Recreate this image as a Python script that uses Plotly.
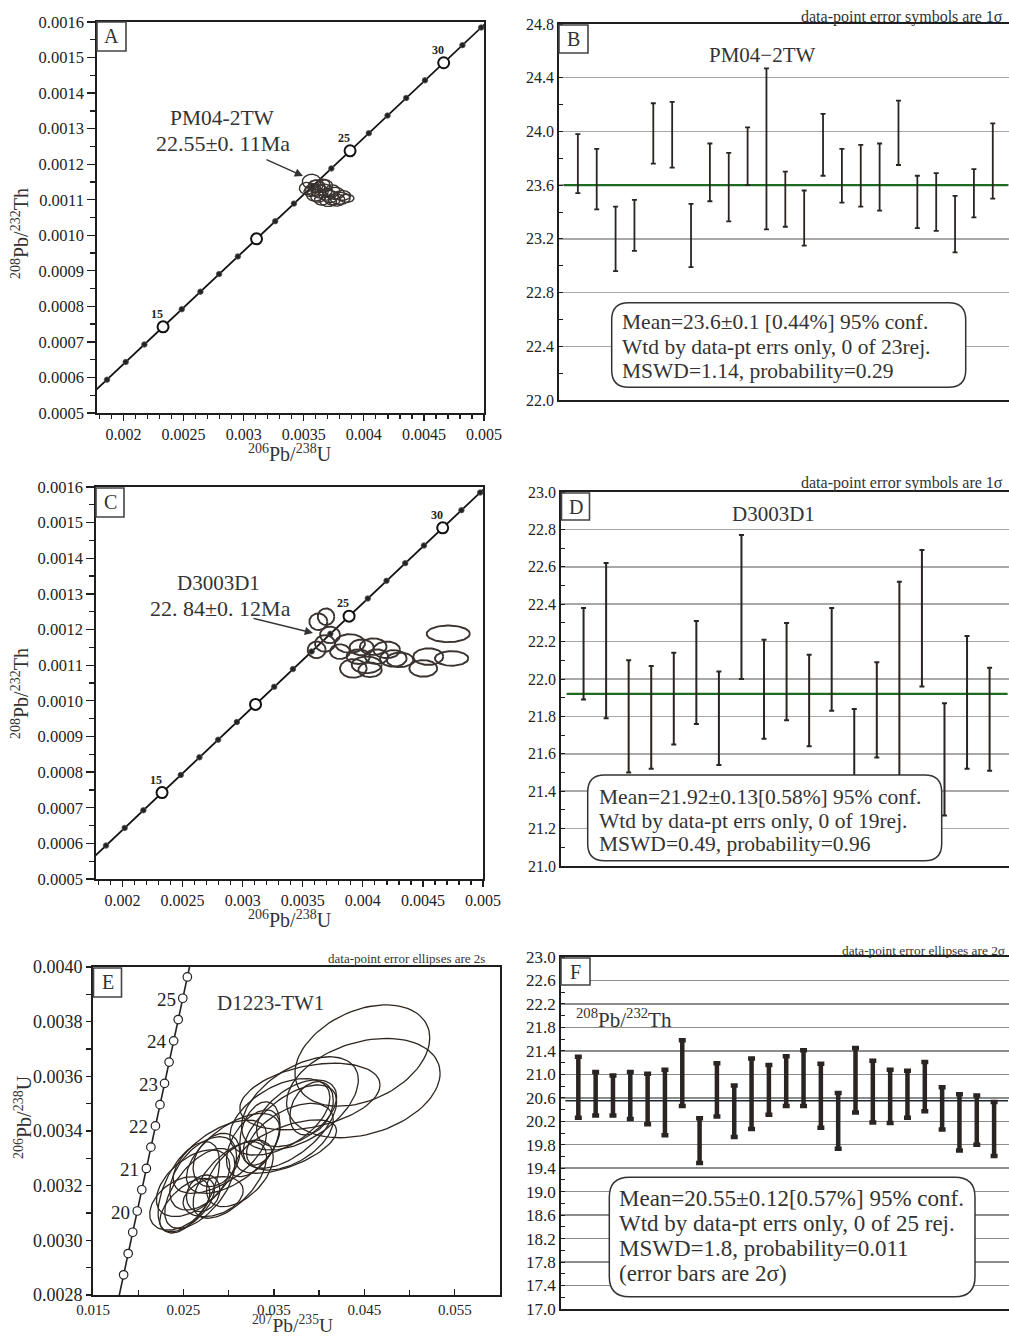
import numpy as np
import plotly.graph_objects as go

W, H = 1009, 1338
SERIF = "Liberation Serif"
AXC = "#1e1e1e"

# ---------------- decay constants (Steiger & Jaeger 1977) ----------------
L238 = 1.55125e-10
L235 = 9.8485e-10
L232 = 4.9475e-11

# ---------------- Panels A / C : 208Pb/232Th vs 206Pb/238U concordia ----------------
tw_line_ages = [11, 12, 13, 14, 15, 16, 17, 18, 19, 20, 21, 22, 23, 24, 25, 26,
                27, 28, 29, 30, 31, 32, 33]
tw_dot_ages = [12, 13, 14, 16, 17, 18, 19, 21, 22, 23, 24, 26, 27, 28, 29, 31, 32]
tw_big_ages = [15, 20, 25, 30]
tw_label_ages = [15, 25, 30]

# Panel A error ellipses (PM04-2TW): centre x, centre y, half-width, half-height
a_x = [0.003566, 0.003525, 0.003608, 0.003635, 0.003594, 0.003677, 0.003719, 0.003760,
       0.003802, 0.003857, 0.003650, 0.003704, 0.003774, 0.003663, 0.003552, 0.003740,
       0.003620, 0.003690, 0.003740, 0.003680, 0.003600, 0.003820, 0.003580]
a_y = [0.001151, 0.001132, 0.001137, 0.001123, 0.001113, 0.001127, 0.001109, 0.001118,
       0.001104, 0.001104, 0.001099, 0.001095, 0.001099, 0.001141, 0.001123, 0.001125,
       0.001108, 0.001115, 0.001100, 0.001140, 0.001140, 0.001112, 0.001128]
a_sx = [0.0000776, 0.0000610, 0.0000690, 0.0000690, 0.0000690, 0.0000610, 0.0000690, 0.0000776,
        0.0000830, 0.0000610, 0.0000610, 0.0000690, 0.0000690, 0.0000555, 0.0000500, 0.0000610,
        0.0000610, 0.0000650, 0.0000650, 0.0000600, 0.0000600, 0.0000700, 0.0000650]
a_sy = [0.0000206, 0.0000169, 0.0000180, 0.0000180, 0.0000169, 0.0000169, 0.0000169, 0.0000169,
        0.0000169, 0.0000113, 0.0000141, 0.0000141, 0.0000169, 0.0000169, 0.0000141, 0.0000169,
        0.0000150, 0.0000160, 0.0000150, 0.0000160, 0.0000160, 0.0000140, 0.0000170]

# Panel C error ellipses (D3003D1)
c_x = [0.003630, 0.003694, 0.003616, 0.003685, 0.003727, 0.003810, 0.003893, 0.003921,
       0.004087, 0.004032, 0.004060, 0.004199, 0.004254, 0.004309, 0.004115, 0.003962,
       0.004503, 0.004545, 0.004739, 0.004711, 0.003990]
c_y = [0.001222, 0.001236, 0.001143, 0.001161, 0.001185, 0.001138, 0.001161, 0.001091,
       0.001152, 0.001101, 0.001087, 0.001143, 0.001119, 0.001115, 0.001124, 0.001124,
       0.001091, 0.001124, 0.001119, 0.001188, 0.001150]
c_sx = [0.0000749, 0.0000690, 0.0000749, 0.0000832, 0.0000832, 0.0000832, 0.000125, 0.000111,
        0.000111, 0.000125, 0.0000973, 0.000111, 0.000111, 0.000111, 0.0000973, 0.0000973,
        0.000116, 0.000125, 0.000139, 0.000180, 0.000100]
c_sy = [0.0000233, 0.0000233, 0.0000233, 0.0000233, 0.0000233, 0.0000206, 0.0000261, 0.0000261,
        0.0000233, 0.0000233, 0.0000205, 0.0000233, 0.0000233, 0.0000205, 0.0000205, 0.0000205,
        0.0000233, 0.0000233, 0.0000205, 0.0000233, 0.0000220]

# ---------------- Panel B : PM04-2TW weighted mean ----------------
b_lo = [23.54, 23.42, 22.96, 23.11, 23.76, 23.73, 22.99, 23.48, 23.33, 23.60, 23.27, 23.29,
        23.15, 23.67, 23.47, 23.44, 23.41, 23.75, 23.28, 23.26, 23.10, 23.36, 23.50]
b_hi = [23.98, 23.87, 23.44, 23.49, 24.21, 24.22, 23.46, 23.91, 23.84, 24.03, 24.47, 23.70,
        23.56, 24.13, 23.87, 23.90, 23.91, 24.23, 23.67, 23.69, 23.52, 23.72, 24.06]
b_mean = 23.6
b_ticks = [22.0, 22.4, 22.8, 23.2, 23.6, 24.0, 24.4, 24.8]

# ---------------- Panel D : D3003D1 weighted mean ----------------
d_hi = [22.38, 22.62, 22.10, 22.07, 22.14, 22.31, 22.04, 22.77, 22.21, 22.30, 22.13, 22.38,
        21.84, 22.09, 22.52, 22.69, 21.87, 22.23, 22.06]
d_lo = [21.89, 21.79, 21.50, 21.52, 21.65, 21.76, 21.54, 22.00, 21.68, 21.78, 21.64, 21.83,
        21.30, 21.58, 21.42, 21.96, 21.27, 21.52, 21.51]
d_mean = 21.92
d_ticks = [21.0, 21.2, 21.4, 21.6, 21.8, 22.0, 22.2, 22.4, 22.6, 22.8, 23.0]

# ---------------- Panel E : D1223-TW1 Wetherill concordia ----------------
e_line_ages = [18.0, 18.5, 19.0, 19.5, 20.0, 20.5, 21.0, 21.5, 22.0, 22.5, 23.0, 23.5,
               24.0, 24.5, 25.0, 25.5, 26.0]
e_mark_ages = [18.5, 19.0, 19.5, 20.0, 20.5, 21.0, 21.5, 22.0, 22.5, 23.0, 23.5, 24.0,
               24.5, 25.0, 25.5]
e_label_ages = [20, 21, 22, 23, 24, 25]
# error ellipses: centre 207/235, centre 206/238, 2s in x, 2s in y, error correlation
e_x = [0.04478, 0.04489, 0.03788, 0.038985, 0.036771, 0.037509, 0.03917, 0.036771, 0.036402,
       0.03345, 0.032712, 0.035664, 0.030498, 0.029022, 0.028653, 0.027177, 0.030129, 0.02607,
       0.02559, 0.026808, 0.025406, 0.024594, 0.027177, 0.028284, 0.031236]
e_y = [0.003676, 0.003557, 0.003501, 0.003526, 0.003416, 0.003465, 0.003483, 0.003379, 0.003343,
       0.003391, 0.003355, 0.003452, 0.003318, 0.003306, 0.003294, 0.003245, 0.003221, 0.003209,
       0.003194, 0.003190, 0.003129, 0.003135, 0.003172, 0.003160, 0.003245]
e_sx = [0.007454, 0.008487, 0.006458, 0.007749, 0.005166, 0.004428, 0.002399, 0.004797, 0.005535,
        0.002214, 0.002952, 0.005535, 0.005166, 0.005166, 0.002583, 0.00369, 0.004059, 0.004059,
        0.003395, 0.003875, 0.003026, 0.003321, 0.001845, 0.003321, 0.00369]
e_sy = [0.0001854, 0.0001817, 0.0001707, 0.000122, 0.0001524, 0.000122, 0.0000976, 0.000122,
        0.0000976, 0.0001159, 0.000122, 0.0001402, 0.0001463, 0.0001341, 0.0000976, 0.0001341,
        0.0001402, 0.000122, 0.0001671, 0.0001463, 0.0000976, 0.0000976, 0.0000671, 0.0000732,
        0.000122]
e_rho = [0.35, 0.30, 0.50, 0.35, 0.60, 0.50, 0.30, 0.50, 0.60, 0.30, 0.50, 0.50, 0.60, 0.60,
         0.30, 0.50, 0.60, 0.50, 0.55, 0.60, 0.60, 0.40, 0.20, 0.30, 0.50]

# ---------------- Panel F : D1223-TW1 208Pb/232Th ages ----------------
f_hi = [21.30, 21.04, 20.98, 21.04, 21.01, 21.08, 21.58, 20.25, 21.19, 20.81, 21.27, 21.16,
        21.31, 21.41, 21.18, 20.68, 21.45, 21.23, 21.08, 21.06, 21.21, 20.78, 20.66, 20.64, 20.53]
f_lo = [20.26, 20.30, 20.30, 20.24, 20.15, 19.96, 20.46, 19.49, 20.28, 19.93, 20.07, 20.31,
        20.46, 20.46, 20.09, 19.73, 20.35, 20.18, 20.17, 20.26, 20.37, 20.06, 19.70, 19.80, 19.61]
f_mean = 20.55
f_ticks = [17.0, 17.4, 17.8, 18.2, 18.6, 19.0, 19.4, 19.8, 20.2, 20.6, 21.0, 21.4, 21.8,
           22.2, 22.6, 23.0]


# ======================================================================
def ratio(lam, ages):
    return np.expm1(lam * np.asarray(ages, dtype=float) * 1e6)


def ellipses(cx, cy, sx, sy, rho=None):
    t = np.linspace(0, 2 * np.pi, 91)
    xs, ys = [], []
    for i in range(len(cx)):
        r = 0.0 if rho is None else rho[i]
        xs += list(cx[i] + sx[i] * np.cos(t)) + [None]
        ys += list(cy[i] + sy[i] * (r * np.cos(t) + np.sqrt(1 - r * r) * np.sin(t))) + [None]
    return xs, ys


def px(x):
    return x / W


def py(y):
    return 1 - y / H


fig = go.Figure()
shapes, annos = [], []

# ---------- A and C ----------
for (xa, ya, ex, ey, esx, esy, lw) in [("x", "y", a_x, a_y, a_sx, a_sy, 1.4),
                                        ("x3", "y3", c_x, c_y, c_sx, c_sy, 1.9)]:
    fig.add_trace(go.Scatter(x=ratio(L238, tw_line_ages), y=ratio(L232, tw_line_ages),
                             mode="lines", line=dict(color="#111", width=1.8),
                             xaxis=xa, yaxis=ya, hoverinfo="skip"))
    fig.add_trace(go.Scatter(x=ratio(L238, tw_dot_ages), y=ratio(L232, tw_dot_ages),
                             mode="markers", marker=dict(color="#222", size=5.5,
                             line=dict(color="#555", width=0.8)),
                             xaxis=xa, yaxis=ya, hoverinfo="skip"))
    fig.add_trace(go.Scatter(x=ratio(L238, tw_big_ages), y=ratio(L232, tw_big_ages),
                             mode="markers", marker=dict(color="white", size=11, symbol="circle",
                             line=dict(color="#111", width=2)),
                             xaxis=xa, yaxis=ya, hoverinfo="skip"))
    exs, eys = ellipses(ex, ey, esx, esy)
    fig.add_trace(go.Scatter(x=exs, y=eys, mode="lines", line=dict(color="#3a3330", width=lw),
                             xaxis=xa, yaxis=ya, hoverinfo="skip"))
    for ag in tw_label_ages:
        annos.append(dict(x=float(ratio(L238, [ag])[0]), y=float(ratio(L232, [ag])[0]),
                          xref=xa, yref=ya, text=str(ag), showarrow=False,
                          font=dict(family=SERIF, size=12, color="#222", weight="bold"),
                          xshift=-6, yshift=13))

# ---------- B, D, F (weighted means) ----------
for (xa, ya, lo, hi, mean, thick, capw, mcol, mw) in [
        ("x2", "y2", b_lo, b_hi, b_mean, 1.8, 2.5, "#1c6b21", 2.2),
        ("x4", "y4", d_lo, d_hi, d_mean, 2.0, 2.5, "#1c6b21", 2.2),
        ("x6", "y6", f_lo, f_hi, f_mean, 4.5, 3.5, "#1b2633", 1.6)]:
    n = len(lo)
    xs = list(range(1, n + 1))
    lo_a, hi_a = np.array(lo), np.array(hi)
    fig.add_trace(go.Scatter(x=[0.25, n + 0.8], y=[mean, mean], mode="lines",
                             line=dict(color=mcol, width=mw), xaxis=xa, yaxis=ya,
                             hoverinfo="skip"))
    fig.add_trace(go.Scatter(x=xs, y=(lo_a + hi_a) / 2, mode="markers",
                             marker=dict(size=1, color="rgba(0,0,0,0)"),
                             error_y=dict(type="data", array=(hi_a - lo_a) / 2, visible=True,
                                          color="#2a2522", thickness=thick, width=capw),
                             xaxis=xa, yaxis=ya, hoverinfo="skip"))

# ---------- E ----------
exs, eys = ellipses(e_x, e_y, e_sx, e_sy, e_rho)
fig.add_trace(go.Scatter(x=exs, y=eys, mode="lines", line=dict(color="#2e2620", width=1.3),
                         xaxis="x5", yaxis="y5", hoverinfo="skip"))
fig.add_trace(go.Scatter(x=ratio(L235, e_line_ages), y=ratio(L238, e_line_ages), mode="lines",
                         line=dict(color="#222", width=1.6), xaxis="x5", yaxis="y5",
                         hoverinfo="skip"))
fig.add_trace(go.Scatter(x=ratio(L235, e_mark_ages), y=ratio(L238, e_mark_ages), mode="markers",
                         marker=dict(color="white", size=8.5, line=dict(color="#222", width=1.2)),
                         xaxis="x5", yaxis="y5", hoverinfo="skip"))
for ag in e_label_ages:
    annos.append(dict(x=float(ratio(L235, [ag])[0]), y=float(ratio(L238, [ag])[0]),
                      xref="x5", yref="y5", text=str(ag), showarrow=False, xanchor="right",
                      font=dict(family=SERIF, size=19, color="#222"), xshift=-5, yshift=-1))

# ---------- axes ----------
def tickfont(s):
    return dict(family=SERIF, size=s, color="#222")


def dom(a, b, size):
    return [a / size, b / size]


layout_axes = {}
# A
layout_axes["xaxis"] = dict(domain=dom(97, 484, W), anchor="y", range=[0.00178, 0.005],
                            tickvals=[0.002, 0.0025, 0.003, 0.0035, 0.004, 0.0045, 0.005],
                            ticktext=["0.002", "0.0025", "0.003", "0.0035", "0.004", "0.0045", "0.005"],
                            ticks="outside", ticklen=6, tickwidth=1.3, tickcolor=AXC,
                            minor=dict(dtick=0.0001, tick0=0.002, ticks="outside", ticklen=4,
                                       tickcolor=AXC, showgrid=False),
                            tickfont=tickfont(16))
layout_axes["yaxis"] = dict(domain=[py(413), py(22)], anchor="x", range=[0.0005, 0.0016],
                            dtick=0.0001, tick0=0.0005, tickformat=".4f",
                            ticks="outside", ticklen=8, tickwidth=1.3, tickcolor=AXC,
                            minor=dict(dtick=0.00005, ticks="outside", ticklen=5, tickcolor=AXC,
                                       showgrid=False),
                            tickfont=tickfont(16.5))
# C
layout_axes["xaxis3"] = dict(layout_axes["xaxis"], domain=dom(96, 483, W), anchor="y3")
layout_axes["yaxis3"] = dict(layout_axes["yaxis"], domain=[py(879), py(487)], anchor="x3")
# E
layout_axes["xaxis5"] = dict(domain=dom(93, 500, W), anchor="y5", range=[0.015, 0.060],
                             tickvals=[0.015, 0.025, 0.035, 0.045, 0.055],
                             ticktext=["0.015", "0.025", "0.035", "0.045", "0.055"],
                             ticks="inside", ticklen=6, tickwidth=1.3, tickcolor=AXC,
                             minor=dict(dtick=0.005, tick0=0.015, ticks="inside", ticklen=5,
                                        tickcolor=AXC, showgrid=False),
                             tickfont=tickfont(15))
layout_axes["yaxis5"] = dict(domain=[py(1295), py(967)], anchor="x5", range=[0.0028, 0.0040],
                             dtick=0.0002, tick0=0.0028, tickformat=".4f",
                             ticks="outside", ticklen=5, tickwidth=1.3, tickcolor=AXC,
                             minor=dict(dtick=0.0001, ticks="outside", ticklen=5, tickcolor=AXC,
                                        showgrid=False),
                             tickfont=tickfont(18))

for k in ["xaxis", "yaxis", "xaxis3", "yaxis3", "xaxis5", "yaxis5"]:
    layout_axes[k].update(showline=True, mirror=True, linecolor=AXC, linewidth=1.8,
                          showgrid=False, zeroline=False, automargin=False)

# B, D, F
for (xk, yk, xa, ya, xdom, ydom, n, yr, ticksv, minor_d, gridc, fs) in [
        ("xaxis2", "yaxis2", "x2", "y2", (559, 1009), (24, 400), len(b_lo), [22.0, 24.8],
         b_ticks, 0.2, "#a8a8a8", 16),
        ("xaxis4", "yaxis4", "x4", "y4", (561, 1009), (492, 866), len(d_lo), [21.0, 23.0],
         d_ticks, 0.1, "#a8a8a8", 16),
        ("xaxis6", "yaxis6", "x6", "y6", (561, 1009), (957, 1309), len(f_lo), [17.0, 23.0],
         f_ticks, 0.2, "#8c8c8c", 17)]:
    layout_axes[xk] = dict(domain=dom(xdom[0], xdom[1], W), anchor=ya,
                           range=[0, n + 0.86], showticklabels=False, ticks="",
                           showgrid=False, zeroline=False, showline=True, mirror=True,
                           linecolor=AXC, linewidth=1.8, automargin=False)
    layout_axes[yk] = dict(domain=[py(ydom[1]), py(ydom[0])], anchor=xa, range=yr,
                           tickvals=ticksv, ticktext=["%.1f" % v for v in ticksv],
                           ticks="", showgrid=True, gridcolor=gridc, gridwidth=1.5,
                           zeroline=False, showline=True, linecolor=AXC, linewidth=1.8,
                           minor=dict(dtick=minor_d, tick0=yr[0], ticks="inside", ticklen=4,
                                      tickcolor=AXC, showgrid=False),
                           tickfont=tickfont(fs), automargin=False)


# ---------- rounded text boxes ----------
def rounded(x0, y0, x1, y1, r):
    pts = [("M", x0 + r, y0), ("L", x1 - r, y0), ("Q", x1, y0, x1, y0 + r), ("L", x1, y1 - r),
           ("Q", x1, y1, x1 - r, y1), ("L", x0 + r, y1), ("Q", x0, y1, x0, y1 - r),
           ("L", x0, y0 + r), ("Q", x0, y0, x0 + r, y0)]
    s = ""
    for p in pts:
        if p[0] == "Q":
            s += "Q%.5f,%.5f %.5f,%.5f " % (px(p[1]), py(p[2]), px(p[3]), py(p[4]))
        else:
            s += "%s%.5f,%.5f " % (p[0], px(p[1]), py(p[2]))
    return dict(type="path", path=s + "Z", xref="paper", yref="paper",
                line=dict(color="#333", width=1.5), fillcolor="white", layer="above")


shapes.append(rounded(611.7, 302.7, 965.7, 387.3, 17))
shapes.append(rounded(587.7, 775, 941.7, 860.7, 17))
shapes.append(rounded(609.3, 1177.3, 975, 1296.7, 20))


def textline(x, y, s, size):
    annos.append(dict(x=px(x), y=py(y), xref="paper", yref="paper", text=s, showarrow=False,
                      xanchor="left", yanchor="middle",
                      font=dict(family=SERIF, size=size, color="#333")))


box_b = ["Mean=23.6±0.1 [0.44%] 95% conf.", "Wtd by data-pt errs only, 0 of 23rej.",
         "MSWD=1.14, probability=0.29"]
for i, s in enumerate(box_b):
    textline(620, 322.5 + 24 * i, s, 21.5)
box_d = ["Mean=21.92±0.13[0.58%] 95% conf.", "Wtd by data-pt errs only, 0 of 19rej.",
         "MSWD=0.49, probability=0.96"]
for i, s in enumerate(box_d):
    textline(597, 797 + 23.5 * i, s, 21.5)
box_f = ["Mean=20.55±0.12[0.57%] 95% conf.", "Wtd by data-pt errs only, 0 of 25 rej.",
         "MSWD=1.8, probability=0.011", "(error bars are 2σ)"]
for i, s in enumerate(box_f):
    textline(617, 1198.5 + 25 * i, s, 23)

# ---------- panel letter boxes ----------
for (lt, x0, y0, x1, y1) in [("A", 97, 22, 126, 51), ("B", 559, 25, 588, 53),
                             ("C", 96, 488, 124, 517), ("D", 561.5, 493, 589.5, 520),
                             ("E", 93.5, 968, 121.5, 997), ("F", 561, 958, 590, 985)]:
    shapes.append(dict(type="rect", xref="paper", yref="paper", x0=px(x0), x1=px(x1),
                       y0=py(y1), y1=py(y0), line=dict(color="#444", width=1.6),
                       fillcolor="white", layer="above"))
    annos.append(dict(x=px((x0 + x1) / 2), y=py((y0 + y1) / 2), xref="paper", yref="paper",
                      text=lt, showarrow=False, xanchor="center", yanchor="middle",
                      font=dict(family=SERIF, size=20, color="#333")))


def free(x, y, s, size, anchor="center", angle=0, color="#333", yanchor="middle"):
    annos.append(dict(x=px(x), y=py(y), xref="paper", yref="paper", text=s, showarrow=False,
                      xanchor=anchor, yanchor=yanchor, textangle=angle,
                      font=dict(family=SERIF, size=size, color=color)))


# titles & captions
free(762, 55, "PM04−2TW", 21)
free(773, 514, "D3003D1", 21)
free(270, 1003, "D1223-TW1", 21)
free(574, 1018, "<sup>208</sup>Pb/<sup>232</sup>Th", 21, anchor="left")
free(1005, 17, "data-point error symbols are 1σ", 16, anchor="right")
free(1005, 483, "data-point error symbols are 1σ", 16, anchor="right")
free(487, 958, "data-point error ellipses are 2s", 13, anchor="right")
free(1007, 950, "data-point error ellipses are 2σ", 13.3, anchor="right")

# sample labels with arrows
free(222, 118, "PM04-2TW", 21.5)
free(223, 143, "22.55±0. 11Ma", 22)
free(218, 583, "D3003D1", 21)
free(220, 608, "22. 84±0. 12Ma", 22)
for (tx, ty, hx, hy) in [(265, 159, 303, 176), (252, 618, 313, 633)]:
    annos.append(dict(x=px(hx), y=py(hy), xref="paper", yref="paper", text="", showarrow=True,
                      ax=tx - hx, ay=ty - hy, arrowhead=2, arrowsize=1.1, arrowwidth=1.5,
                      arrowcolor="#333"))

# axis titles
free(290, 453, "<sup>206</sup>Pb/<sup>238</sup>U", 20)
free(20, 234, "<sup>208</sup>Pb/<sup>232</sup>Th", 20, angle=-90)
free(290, 919, "<sup>206</sup>Pb/<sup>238</sup>U", 20)
free(20, 694, "<sup>208</sup>Pb/<sup>232</sup>Th", 20, angle=-90)
free(292, 1338, "<sup>207</sup>Pb/<sup>235</sup>U", 19.5, yanchor="bottom")
free(23, 1117, "<sup>206</sup>Pb/<sup>238</sup>U", 20, angle=-90)

fig.update_layout(template="none", width=W, height=H, margin=dict(l=0, r=0, t=0, b=0, pad=0),
                  paper_bgcolor="white", plot_bgcolor="white", showlegend=False,
                  font=dict(family=SERIF, color="#333"),
                  shapes=shapes, annotations=annos, **layout_axes)

fig.write_html("out.html", config={"displayModeBar": False, "staticPlot": True},
               post_script="document.body.style.margin='0';"
                           "document.body.style.overflow='hidden';"
                           "document.documentElement.style.overflow='hidden';")
